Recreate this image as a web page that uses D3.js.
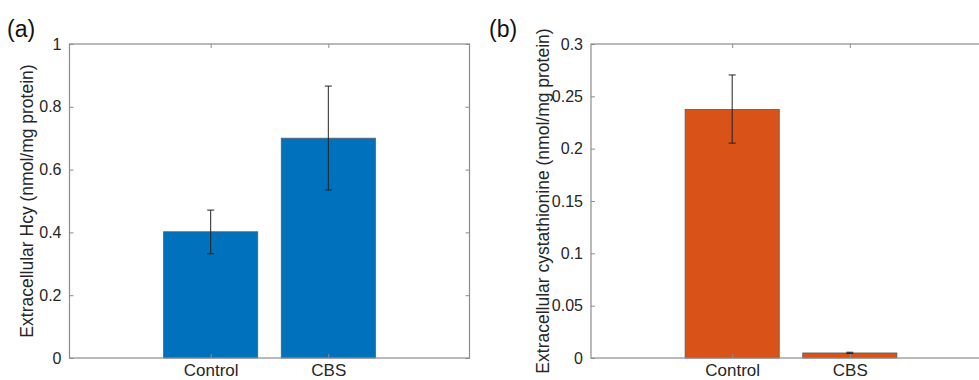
<!DOCTYPE html>
<html><head><meta charset="utf-8">
<script src="https://cdn.jsdelivr.net/npm/d3@7"></script>
<style>body{margin:0;background:#fff}svg{display:block}text{font-family:Arial,"Liberation Sans",Helvetica,sans-serif}</style>
</head><body><svg id="c" width="979" height="380"></svg>
<script>
const categories = ["Control", "CBS"];
const hcyValues = [0.402, 0.700];
const hcyLow = [0.332, 0.535];
const hcyHigh = [0.471, 0.866];
const hcyTicks = [0, 0.2, 0.4, 0.6, 0.8, 1];
const cysValues = [0.2375, 0.0048];
const cysLow = [0.2053, 0.0043];
const cysHigh = [0.2704, 0.0055];
const cysTicks = [0, 0.05, 0.1, 0.15, 0.2, 0.25, 0.3];

const svg = d3.select("#c");
const axisColor = "#8c8c8c", textColor = "#262626";

function panel(o) {
  const g = svg.append("g");
  const x = d3.scaleLinear().domain([-0.2, 3.2]).range([o.left, o.left + 400]);
  const y = d3.scaleLinear().domain(o.domain).range([358, 44]);
  const bw = x(1.8) - x(1);
  g.selectAll("rect.bar").data(o.values).join("rect")
    .attr("x", (d, i) => x(i + 1) - bw / 2).attr("width", bw)
    .attr("y", d => y(d)).attr("height", d => y(0) - y(d))
    .attr("fill", o.color).attr("stroke", "#5a5a5a").attr("stroke-width", 0.8);
  g.append("rect").attr("x", x(-0.2)).attr("y", 44).attr("width", 400).attr("height", 314)
    .attr("fill", "none").attr("stroke", axisColor).attr("stroke-width", 1.2);
  const yl = d3.axisLeft(y).tickValues(o.ticks).tickSize(-4).tickPadding(8).tickFormat(d => String(+d.toFixed(2)));
  const ya = g.append("g").attr("transform", `translate(${o.left},0)`).call(yl);
  ya.select(".domain").remove();
  ya.selectAll("line").attr("stroke", axisColor);
  ya.selectAll("text").attr("fill", textColor).style("font-size", "16px");
  const yr = d3.axisRight(y).tickValues(o.ticks).tickSize(-4).tickFormat("");
  const yra = g.append("g").attr("transform", `translate(${o.left + 400},0)`).call(yr);
  yra.select(".domain").remove();
  yra.selectAll("line").attr("stroke", axisColor);
  const xb = d3.axisBottom(x).tickValues([1, 2]).tickSize(-4).tickPadding(6).tickFormat(d => categories[d - 1]);
  const xa = g.append("g").attr("transform", `translate(0,358)`).call(xb);
  xa.select(".domain").remove();
  xa.selectAll("line").attr("stroke", axisColor);
  xa.selectAll("text").attr("fill", textColor).style("font-size", "17px");
  const xt = d3.axisTop(x).tickValues([1, 2]).tickSize(-4).tickFormat("");
  const xta = g.append("g").attr("transform", `translate(0,44)`).call(xt);
  xta.select(".domain").remove();
  xta.selectAll("line").attr("stroke", axisColor);
  const eb = g.selectAll("g.err").data(o.values.map((v, i) => ({i, lo: o.low[i], hi: o.high[i]}))).join("g");
  eb.append("line").attr("x1", d => x(d.i + 1)).attr("x2", d => x(d.i + 1))
    .attr("y1", d => y(d.lo)).attr("y2", d => y(d.hi)).attr("stroke", "#222").attr("stroke-width", 1);
  eb.append("line").attr("x1", d => x(d.i + 1) - 3.5).attr("x2", d => x(d.i + 1) + 3.5)
    .attr("y1", d => y(d.lo)).attr("y2", d => y(d.lo)).attr("stroke", "#222").attr("stroke-width", 1);
  eb.append("line").attr("x1", d => x(d.i + 1) - 3.5).attr("x2", d => x(d.i + 1) + 3.5)
    .attr("y1", d => y(d.hi)).attr("y2", d => y(d.hi)).attr("stroke", "#222").attr("stroke-width", 1);
  g.append("text").attr("transform", `translate(${o.labelX},201) rotate(-90)`)
    .attr("text-anchor", "middle").attr("fill", textColor).style("font-size", "17.5px").text(o.ylabel);
  g.append("text").attr("x", o.tagX).attr("y", 37).attr("fill", "#111").style("font-size", "23px").text(o.tag);
}

panel({left: 69.5, domain: [0, 1], values: hcyValues, low: hcyLow, high: hcyHigh, ticks: hcyTicks,
  color: "#0072BD", ylabel: "Extracellular Hcy (nmol/mg protein)", labelX: 33, tag: "(a)", tagX: 7});
panel({left: 591, domain: [0, 0.3], values: cysValues, low: cysLow, high: cysHigh, ticks: cysTicks,
  color: "#D95319", ylabel: "Extracellular cystathionine (nmol/mg protein)", labelX: 549, tag: "(b)", tagX: 489});
</script></body></html>
